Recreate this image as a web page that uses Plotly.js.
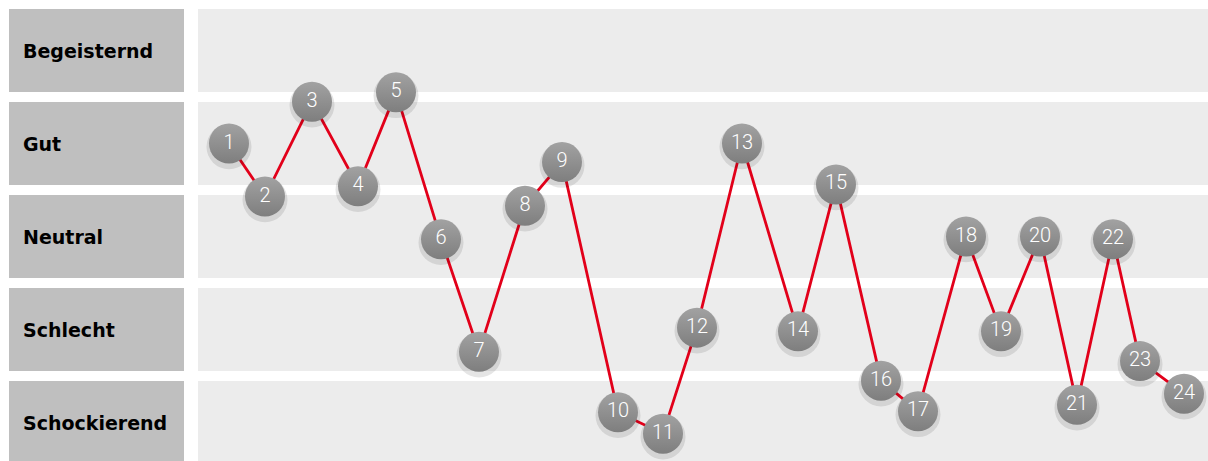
<!DOCTYPE html>
<html>
<head>
<meta charset="utf-8">
<script src="https://cdn.plot.ly/plotly-3.0.1.min.js"></script>
<style>html,body{margin:0;padding:0;background:#fff;}#chart{width:1208px;height:461px;}</style>
</head>
<body>
<div id="chart"></div>
<script>
// Rating categories (top to bottom) and their level values
const categories = ["Begeisternd", "Gut", "Neutral", "Schlecht", "Schockierend"];
const levels = [5, 4, 3, 2, 1];

// Point labels, horizontal positions (timeline units) and rating values
const pointLabels = ["1","2","3","4","5","6","7","8","9","10","11","12","13","14","15","16","17","18","19","20","21","22","23","24"];
const xPos = [31, 67, 114, 160, 198, 243, 281, 327, 364, 420, 465, 499, 544, 600, 638, 683, 720, 768, 803, 842, 879, 915, 942, 986];
const ratings = [4.0, 3.43, 4.45, 3.54, 4.55, 2.97, 1.76, 3.33, 3.80, 1.11, 0.88, 2.02, 4.0, 1.98, 3.56, 1.45, 1.12, 3.0, 1.98, 3.0, 1.19, 2.97, 1.66, 1.31];

const plotW = 1010;
const shapes = [];
const annotations = [];
levels.forEach((lv, i) => {
  shapes.push({type: "rect", xref: "paper", yref: "y", x0: 0, x1: 1, y0: lv - 0.445, y1: lv + 0.445,
    fillcolor: "#ececec", line: {width: 0}, layer: "below"});
  shapes.push({type: "rect", xref: "paper", yref: "y", x0: -189 / plotW, x1: -14 / plotW, y0: lv - 0.445, y1: lv + 0.445,
    fillcolor: "#bfbfbf", line: {width: 0}, layer: "below"});
  annotations.push({xref: "paper", yref: "y", x: -177 / plotW, y: lv, xanchor: "left", yanchor: "middle",
    text: categories[i], showarrow: false,
    font: {family: "DejaVu Sans", size: 19, color: "#000", weight: "bold"}});
});

const traces = [
  {x: xPos, y: ratings, mode: "lines", line: {color: "#e2001a", width: 2.8}, hoverinfo: "skip", showlegend: false},
  {x: xPos, y: ratings.map(v => v - 0.035), mode: "markers", marker: {size: 45, color: "rgba(0,0,0,0.10)", line: {width: 0}}, hoverinfo: "skip", showlegend: false},
  {x: xPos, y: ratings, mode: "markers+text", text: pointLabels, textposition: "middle center",
    textfont: {family: "Roboto", size: 20, color: "#ffffff", weight: 300},
    marker: {size: 40, color: "#a2a2a2", gradient: {type: "vertical", color: "#7e7e7e"}, line: {width: 0}},
    showlegend: false}
];

const layout = {
  width: 1208, height: 461,
  margin: {l: 198, r: 0, t: 0, b: 0, pad: 0},
  paper_bgcolor: "#ffffff", plot_bgcolor: "#ffffff",
  xaxis: {range: [0, 1010], visible: false, fixedrange: true},
  yaxis: {range: [0.586, 5.543], visible: false, fixedrange: true},
  shapes: shapes, annotations: annotations, showlegend: false
};

Plotly.newPlot("chart", traces, layout, {displayModeBar: false, staticPlot: true});
</script>
</body>
</html>
